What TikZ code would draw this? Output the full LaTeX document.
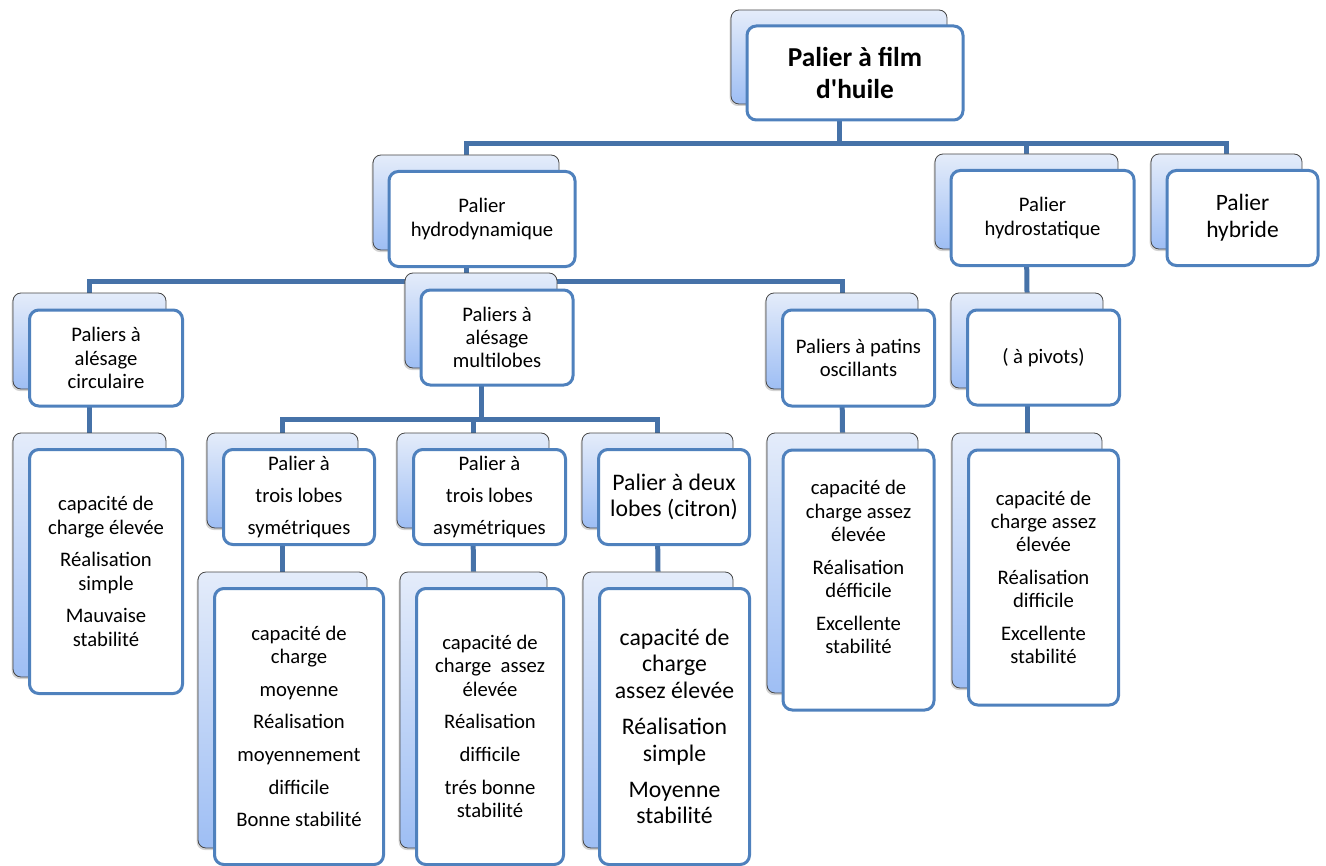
\documentclass[tikz,border=0pt]{standalone}
\usepackage{fontspec}
\setmainfont{Carlito}
\usetikzlibrary{shadows,backgrounds}

\definecolor{bleulien}{RGB}{70,114,168}
\definecolor{bleubord}{RGB}{79,129,189}
\definecolor{fondhaut}{RGB}{228,236,250}
\definecolor{fondbas}{RGB}{158,190,244}
\definecolor{contour}{RGB}{70,70,70}

\begin{document}
\begin{tikzpicture}[x=0.75pt, y=-0.75pt,
    taille/.style 2 args={minimum width=#1*0.75pt, minimum height=#2*0.75pt},
    arriere/.style={draw=contour, line width=0.6pt, rounded corners=6pt,
      top color=fondhaut, bottom color=fondbas,
      drop shadow={shadow xshift=-1pt, shadow yshift=-1.5pt, opacity=.35}},
    avant/.style={draw=bleubord, line width=2.25pt, rounded corners=7pt, fill=white,
      align=center, inner sep=2pt, font=\fontsize{15.5}{17.5}\selectfont},
    lien/.style={draw=bleulien, line width=3.75pt}]
  \useasboundingbox (0,0) rectangle (1326,866);

  % niveau 0
  \node[arriere, taille={216}{94}] (huileB) at (839,57) {};
  \node[avant, taille={216}{94}, font=\fontsize{20.5}{23.5}\selectfont\bfseries] (huile) at ([shift={(16,16)}]huileB.center) {Palier à film\\d\textquotesingle huile};

  % niveau 1
  \node[arriere, taille={186}{95}] (hydroB) at (466,202.5) {};
  \node[avant, taille={186}{95}] (hydro) at ([shift={(16,16.5)}]hydroB.center) {Palier\\hydrodynamique};
  \node[arriere, taille={183}{95}] (hstatB) at (1026.5,201.5) {};
  \node[avant, taille={183}{95}] (hstat) at ([shift={(16,16.5)}]hstatB.center) {Palier\\hydrostatique};
  \node[arriere, taille={151}{95}] (hybB) at (1226.5,201.5) {};
  \node[avant, taille={151}{95}, font=\fontsize{17.6}{20}\selectfont] (hyb) at ([shift={(16,16.5)}]hybB.center) {Palier\\hybride};

  % niveau 2
  \node[arriere, taille={153}{96}] (circB) at (89.5,341) {};
  \node[avant, taille={153}{96}] (circ) at ([shift={(16.5,17)}]circB.center) {Paliers à\\alésage\\circulaire};
  \node[arriere, taille={152}{95}] (multiB) at (481,320.5) {};
  \node[avant, taille={152}{95}] (multi) at ([shift={(16,17)}]multiB.center) {Paliers à\\alésage\\multilobes};
  \node[arriere, taille={152}{96}] (patinsB) at (842,341) {};
  \node[avant, taille={152}{96}] (patins) at ([shift={(16.5,17)}]patinsB.center) {Paliers à patins\\oscillants};
  \node[arriere, taille={152}{95}] (pivotsB) at (1027,340.5) {};
  \node[avant, taille={152}{95}] (pivots) at ([shift={(16.5,17)}]pivotsB.center) {( à pivots)};

  % niveau 3
  \node[arriere, taille={151}{95}] (symB) at (282.5,480.5) {};
  \node[avant, taille={151}{95}] (sym) at ([shift={(16.5,16.5)}]symB.center) {Palier à\\[6.5pt]trois lobes\\[6.5pt]symétriques};
  \node[arriere, taille={152}{95}] (asymB) at (473,480.5) {};
  \node[avant, taille={152}{95}] (asym) at ([shift={(16.5,16.5)}]asymB.center) {Palier à\\[6.5pt]trois lobes\\[6.5pt]asymétriques};
  \node[arriere, taille={151}{95}] (deuxB) at (657.5,480.5) {};
  \node[avant, taille={151}{95}, font=\fontsize{17.8}{20}\selectfont] (deux) at ([shift={(16.5,16.5)}]deuxB.center) {Palier à deux\\lobes (citron)};

  % feuilles
  \node[arriere, taille={153}{244}] (circLB) at (89.5,555) {};
  \node[avant, taille={153}{244}] (circL) at ([shift={(16.5,16.5)}]circLB.center) {capacité de\\charge élevée\\[7pt]Réalisation\\simple\\[7pt]Mauvaise\\stabilité};
  \node[arriere, taille={169}{276}] (symLB) at (282.5,710) {};
  \node[avant, taille={169}{276}] (symL) at ([shift={(16.5,16.5)}]symLB.center) {capacité de\\charge\\[7pt]moyenne\\[7pt]Réalisation\\[7pt]moyennement\\[7pt]difficile\\[7pt]Bonne stabilité};
  \node[arriere, taille={147}{276}] (asymLB) at (473.5,710) {};
  \node[avant, taille={147}{276}] (asymL) at ([shift={(16.5,16.5)}]asymLB.center) {capacité de\\charge\ \ assez\\élevée\\[7pt]Réalisation\\[7pt]difficile\\[7pt]trés bonne\\stabilité};
  \node[arriere, taille={150}{276}] (deuxLB) at (658,710) {};
  \node[avant, taille={150}{276}, font=\fontsize{17.8}{20}\selectfont] (deuxL) at ([shift={(16.5,16.5)}]deuxLB.center) {capacité de\\charge\\assez élevée\\[7pt]Réalisation\\simple\\[7pt]Moyenne\\stabilité};
  \node[arriere, taille={151}{260}] (patinsLB) at (842.5,563) {};
  \node[avant, taille={151}{260}] (patinsL) at ([shift={(16,17)}]patinsLB.center) {capacité de\\charge assez\\élevée\\[7pt]Réalisation\\défficile\\[7pt]Excellente\\stabilité\\[2pt]\mbox{}};
  \node[arriere, taille={150}{255}] (pivotsLB) at (1027,560.5) {};
  \node[avant, taille={150}{255}] (pivotsL) at ([shift={(16.5,17)}]pivotsLB.center) {capacité de\\charge assez\\élevée\\[7pt]Réalisation\\difficile\\[7pt]Excellente\\stabilité};

  % liaisons
  \begin{scope}[on background layer]
    \draw[lien] (huileB.south) -- ++(0,39) -| (hydroB.north);
    \draw[lien] (huileB.south) -- ++(0,39) -| (hstatB.north);
    \draw[lien] (huileB.south) -- ++(0,39) -| (hybB.north);

    \draw[lien] (hydroB.south) -- ++(0,31) -| (circB.north);
    \draw[lien] (hydroB.south) -- ++(0,31) -| (multiB.north);
    \draw[lien] (hydroB.south) -- ++(0,31) -| (patinsB.north);
    \draw[lien] (hstatB.south) -- (pivotsB.north);

    \draw[lien] (multiB.south) -- ++(0,51) -| (symB.north);
    \draw[lien] (multiB.south) -- ++(0,51) -| (asymB.north);
    \draw[lien] (multiB.south) -- ++(0,51) -| (deuxB.north);

    \draw[lien] (circB.south) -- (circLB.north);
    \draw[lien] (symB.south) -- (symLB.north);
    \draw[lien] (asymB.south) -- (asymLB.north);
    \draw[lien] (deuxB.south) -- (deuxLB.north);
    \draw[lien] (patinsB.south) -- (patinsLB.north);
    \draw[lien] (pivotsB.south) -- (pivotsLB.north);
  \end{scope}
\end{tikzpicture}
\end{document}
